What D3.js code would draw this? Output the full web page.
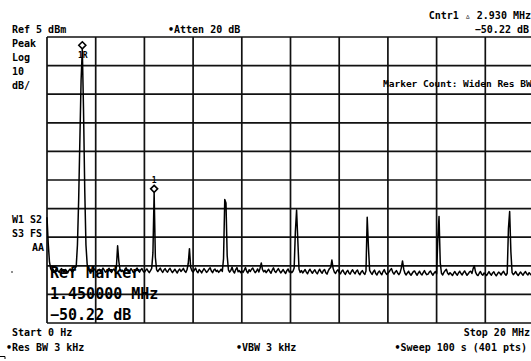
<!DOCTYPE html>
<html>
<head>
<meta charset="utf-8">
<script src="https://cdn.jsdelivr.net/npm/d3@7"></script>
<style>
  html, body { margin: 0; padding: 0; background: #fff; }
  svg { display: block; }
  text { font-family: "DejaVu Sans Mono", monospace; font-weight: bold; fill: #000; }
</style>
</head>
<body>
<svg id="chart" width="531" height="361"></svg>
<script>
// Sweep settings
const startMHz = 0;
const stopMHz = 20;
const stepMHz = 0.05;          // 401 points over 20 MHz
const refLevel = 5;            // dBm at top graticule
const dbPerDiv = 10;

const freqGrid = [0, 2, 4, 6, 8, 10, 12, 14, 16, 18, 20];
const ampGrid = [5, -5, -15, -25, -35, -45, -55, -65, -75, -85, -95];

// Trace amplitude (dBm), one row per MHz, 20 points per row + stop point
const traceDbm = [
  -58.0, -67.0, -73.5, -76.0, -76.8, -76.2, -77.1, -76.5, -75.9, -76.8, -77.3, -76.4, -76.0, -76.9, -77.2, -76.3, -76.7, -77.5, -76.6, -76.1,
  -76.8, -77.2, -76.4, -76.0, -75.2, -67.7, -52.0, -31.0, -10.0, 0.7, -20.5, -48.5, -67.7, -74.5, -76.2, -76.9, -76.3, -77.0, -76.5, -76.1,
  -76.8, -77.4, -76.6, -76.2, -77.1, -76.7, -75.8, -76.5, -77.2, -76.9, -76.3, -75.9, -76.8, -77.3, -76.5, -76.1, -76.9, -75.4, -68.0, -73.5,
  -76.4, -77.0, -76.6, -77.3, -76.2, -75.7, -76.5, -77.1, -76.8, -76.0, -76.6, -77.4, -76.9, -76.3, -75.8, -76.7, -77.2, -76.4, -76.0, -76.9,
  -77.3, -76.6, -76.1, -76.8, -77.4, -76.7, -75.9, -70.5, -49.5, -72.0, -76.3, -77.0, -76.4, -75.8, -76.7, -77.3, -76.5, -76.0, -76.8, -77.2,
  -76.4, -75.9, -76.7, -77.4, -76.8, -76.2, -76.9, -77.5, -76.6, -76.1, -77.0, -76.5, -75.9, -76.8, -77.3, -76.4, -74.2, -69.0, -75.5, -76.7,
  -77.2, -76.5, -75.8, -76.9, -77.4, -76.3, -76.8, -77.5, -76.7, -76.0, -76.6, -77.3, -76.9, -76.2, -75.7, -76.8, -77.4, -76.5, -76.1, -77.0,
  -76.6, -77.3, -76.8, -76.2, -77.0, -72.5, -51.8, -53.0, -71.5, -76.4, -77.2, -76.6, -75.5, -76.9, -77.5, -76.3, -75.6, -77.1, -76.7, -77.4,
  -76.8, -77.3, -76.5, -75.6, -76.9, -77.5, -76.4, -77.0, -76.2, -75.8, -76.7, -77.4, -76.9, -76.1, -77.2, -75.9, -74.0, -76.3, -77.1, -76.6,
  -77.4, -76.8, -76.2, -77.0, -77.6, -76.5, -75.7, -76.9, -77.3, -76.6, -76.0, -76.8, -77.5, -76.9, -76.3, -77.1, -77.7, -76.7, -76.1, -77.2,
  -76.8, -77.4, -76.9, -75.8, -63.0, -55.5, -66.0, -76.2, -77.3, -76.7, -77.5, -76.9, -76.3, -77.2, -77.8, -76.8, -76.2, -77.0, -77.6, -76.9,
  -76.4, -77.3, -77.8, -76.9, -76.2, -77.1, -77.6, -76.7, -76.3, -77.4, -77.9, -76.8, -76.0, -75.6, -73.0, -75.9, -77.2, -77.7, -76.8, -76.4,
  -77.3, -77.8, -76.9, -76.5, -77.4, -78.0, -77.1, -76.6, -77.5, -77.9, -77.0, -76.4, -77.2, -77.8, -76.9, -76.5, -77.6, -78.1, -77.2, -76.7,
  -77.5, -78.0, -76.8, -58.0, -68.3, -76.6, -77.4, -78.0, -77.1, -76.5, -77.7, -78.2, -77.3, -76.8, -77.6, -78.1, -77.0, -76.3, -77.4, -78.0,
  -77.6, -77.1, -76.4, -76.0, -77.3, -77.9, -77.2, -76.7, -77.5, -78.1, -77.4, -75.8, -73.3, -76.2, -77.6, -78.2, -77.5, -76.9, -77.8, -78.3,
  -77.6, -77.0, -76.8, -77.7, -78.3, -77.5, -76.9, -77.8, -78.2, -77.4, -76.7, -77.6, -78.1, -77.9, -77.2, -76.8, -77.7, -78.3, -77.5, -77.0,
  -77.8, -65.5, -57.8, -74.0, -77.6, -78.2, -77.3, -76.7, -76.2, -77.5, -78.1, -77.4, -77.9, -78.4, -77.6, -77.0, -77.8, -78.3, -77.5, -76.9,
  -77.7, -78.2, -77.4, -76.8, -77.6, -78.3, -77.8, -77.1, -76.9, -77.7, -76.0, -75.0, -77.2, -78.1, -78.4, -77.6, -77.0, -77.9, -78.3, -77.5,
  -77.9, -78.4, -77.7, -77.0, -77.8, -78.3, -77.5, -77.1, -77.9, -78.5, -77.8, -77.2, -77.6, -78.2, -77.4, -76.9, -77.8, -78.3, -77.6, -62.0,
  -56.0, -70.0, -77.4, -78.1, -77.6, -77.0, -77.9, -78.4, -77.7, -77.2, -77.8, -78.3, -77.5, -77.0, -77.8, -78.2, -77.4, -77.9, -78.3, -77.6,
  -77.8
];

// Markers: reference marker on the fundamental, delta marker 1
const markerRefIndex = 29;     // 1.45 MHz
const marker1Index = 88;       // 4.40 MHz

const topLeftLabels = ["Ref 5 dBm", "Peak", "Log", "10", "dB/"];
const sideLabels = ["W1 S2", "S3 FS"];
const attenLabel = "\u2022Atten 20 dB";
const deltaLabel = "Cntr1 \u25B5 2.930 MHz";
const deltaValue = "\u221250.22 dB";
const countLabel = "Marker Count: Widen Res BW";
const readoutLines = ["Ref Marker", "1.450000 MHz", "\u221250.22 dB"];
const startLabel = "Start 0 Hz";
const stopLabel = "Stop 20 MHz";
const rbwLabel = "\u2022Res BW 3 kHz";
const vbwLabel = "\u2022VBW 3 kHz";
const sweepLabel = "\u2022Sweep 100 s (401 pts)";

const svg = d3.select("#chart");

const x = d3.scaleLinear().domain([startMHz, stopMHz]).range([47, 534]);
const y = d3.scaleLinear()
  .domain([refLevel - dbPerDiv * 10, refLevel])
  .range([323, 37]);

// Graticule
const grid = svg.append("g").attr("class", "graticule")
  .attr("stroke", "#111").attr("stroke-width", 1.7);
grid.selectAll(".v").data(freqGrid).enter().append("line")
  .attr("x1", d => x(d)).attr("x2", d => x(d))
  .attr("y1", y(refLevel)).attr("y2", y(refLevel - dbPerDiv * 10));
grid.selectAll(".h").data(ampGrid).enter().append("line")
  .attr("y1", d => y(d)).attr("y2", d => y(d))
  .attr("x1", x(startMHz)).attr("x2", x(stopMHz));

// Trace
const points = traceDbm.map((v, i) => ({ f: startMHz + i * stepMHz, v }));
const line = d3.line().x(d => x(d.f)).y(d => y(d.v));
svg.append("path")
  .datum(points)
  .attr("fill", "none")
  .attr("stroke", "#000")
  .attr("stroke-width", 1.5)
  .attr("stroke-linejoin", "round")
  .attr("d", line);

// Marker diamonds
function diamond(p, label, below) {
  const cx = x(p.f), cy = y(p.v) - 4;
  svg.append("path")
    .attr("d", `M${cx},${cy - 3.5}L${cx + 3.5},${cy}L${cx},${cy + 3.5}L${cx - 3.5},${cy}Z`)
    .attr("fill", "#fff").attr("stroke", "#000").attr("stroke-width", 1.6);
  svg.append("text")
    .attr("x", cx + (below ? 0.5 : 0)).attr("y", below ? cy + 13 : cy - 6)
    .attr("text-anchor", "middle")
    .attr("font-size", 8)
    .text(label);
}
diamond(points[markerRefIndex], "1R", true);
diamond(points[marker1Index], "1", false);

// Annotations
svg.selectAll(".tl").data(topLeftLabels).enter().append("text")
  .attr("x", 12).attr("y", (d, i) => 33 + i * 14)
  .attr("font-size", 10).text(d => d);

svg.selectAll(".sl").data(sideLabels).enter().append("text")
  .attr("x", 12).attr("y", (d, i) => 223 + i * 14)
  .attr("font-size", 10).text(d => d);
svg.append("text").attr("x", 44).attr("y", 251).attr("text-anchor", "end")
  .attr("font-size", 10).text("AA");

svg.append("text").attr("x", 168).attr("y", 33).attr("font-size", 10).text(attenLabel);
svg.append("text").attr("x", 531).attr("y", 19).attr("text-anchor", "end")
  .attr("font-size", 10).text(deltaLabel);
svg.append("text").attr("x", 529).attr("y", 33).attr("text-anchor", "end")
  .attr("font-size", 10).text(deltaValue);
svg.append("text").attr("x", 383).attr("y", 87).attr("font-size", 9.5).text(countLabel);

svg.selectAll(".ro").data(readoutLines).enter().append("text")
  .attr("x", 50).attr("y", (d, i) => 278 + i * 21)
  .attr("font-size", 15).text(d => d);

svg.append("text").attr("x", 12).attr("y", 336).attr("font-size", 10).text(startLabel);
svg.append("text").attr("x", 6).attr("y", 351).attr("font-size", 10).text(rbwLabel);
svg.append("text").attr("x", 236).attr("y", 351).attr("font-size", 10).text(vbwLabel);
svg.append("text").attr("x", 530).attr("y", 336).attr("text-anchor", "end")
  .attr("font-size", 10).text(stopLabel);
svg.append("text").attr("x", 527).attr("y", 351).attr("text-anchor", "end")
  .attr("font-size", 10).text(sweepLabel);

// stray screen marks
svg.append("circle").attr("cx", 12).attr("cy", 272).attr("r", 0.8).attr("fill", "#000");
svg.append("path").attr("d", "M0,356.5H5V359").attr("fill", "none")
  .attr("stroke", "#000").attr("stroke-width", 1);
</script>
</body>
</html>
